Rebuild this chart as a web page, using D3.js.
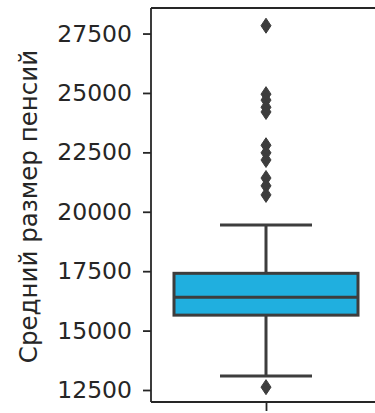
<!DOCTYPE html>
<html>
<head>
<meta charset="utf-8">
<script src="https://cdn.jsdelivr.net/npm/d3@7"></script>
<style>
  html, body { margin: 0; padding: 0; background: #fff; }
  svg { display: block; }
  text { font-family: "DejaVu Sans", sans-serif; }
</style>
</head>
<body>
<svg id="chart" width="375" height="413"></svg>
<script>
// Summary of average pension sizes (box plot statistics)
const boxStats = { q1: 15650, median: 16400, q3: 17410, whiskerLow: 13090, whiskerHigh: 19440 };
const outliers = [27830, 24950, 24700, 24400, 24200, 22800, 22480, 22180, 21420, 21090, 20710, 12620];
const yTicks = [12500, 15000, 17500, 20000, 22500, 25000, 27500];
const yLabel = "Средний размер пенсий";
const yLimits = [11995, 28575];

const svg = d3.select("#chart");
const plot = { left: 151, top: 8, bottom: 402, right: 381 };

const y = d3.scaleLinear().domain(yLimits).range([plot.bottom, plot.top]);
const x = d3.scaleLinear().domain([-0.5, 0.5]).range([plot.left, plot.right]);

const ink = "#262626";
const lineGray = "#3d3d3d";
const boxFill = "#20afdf";

// Box body
const boxW = x(0.4) - x(-0.4);
svg.append("rect")
  .attr("x", x(-0.4)).attr("y", y(boxStats.q3))
  .attr("width", boxW).attr("height", y(boxStats.q1) - y(boxStats.q3))
  .attr("fill", boxFill).attr("stroke", lineGray).attr("stroke-width", 3);

// Whiskers and caps
const g = svg.append("g").attr("stroke", lineGray).attr("stroke-width", 3).attr("fill", "none");
g.append("line").attr("x1", x(0)).attr("x2", x(0)).attr("y1", y(boxStats.q3)).attr("y2", y(boxStats.whiskerHigh));
g.append("line").attr("x1", x(0)).attr("x2", x(0)).attr("y1", y(boxStats.q1)).attr("y2", y(boxStats.whiskerLow));
[boxStats.whiskerHigh, boxStats.whiskerLow].forEach(v => {
  g.append("line").attr("x1", x(-0.2)).attr("x2", x(0.2)).attr("y1", y(v)).attr("y2", y(v));
});
g.append("line").attr("x1", x(-0.4)).attr("x2", x(0.4))
  .attr("y1", y(boxStats.median)).attr("y2", y(boxStats.median));

// Outliers drawn as thin diamonds
const hh = 7.5, hw = 5;
svg.append("g").selectAll("path").data(outliers).join("path")
  .attr("d", `M0,${-hh}L${hw},0L0,${hh}L${-hw},0Z`)
  .attr("transform", d => `translate(${x(0)},${y(d)})`)
  .attr("fill", lineGray).attr("stroke", lineGray).attr("stroke-width", 1);

// Y axis
const yAxis = svg.append("g").attr("transform", `translate(${plot.left},0)`)
  .call(d3.axisLeft(y).tickValues(yTicks).tickFormat(d3.format("d")).tickSize(8).tickPadding(11).tickSizeOuter(0));
yAxis.select(".domain").remove();
yAxis.selectAll(".tick line").attr("stroke", ink).attr("stroke-width", 1.8);
yAxis.selectAll(".tick text").attr("fill", ink).style("font-size", "23.5px").attr("font-family", "DejaVu Sans");

// X axis: single unlabeled tick at the category centre
const xAxis = svg.append("g").attr("transform", `translate(0,${plot.bottom})`)
  .call(d3.axisBottom(x).tickValues([0]).tickFormat("").tickSize(9).tickSizeOuter(0));
xAxis.select(".domain").remove();
xAxis.selectAll(".tick line").attr("stroke", ink).attr("stroke-width", 1.8);

// Spines
const spines = svg.append("g").attr("stroke", ink).attr("stroke-width", 1.8).attr("fill", "none");
spines.append("line").attr("x1", plot.left).attr("x2", plot.left).attr("y1", plot.top).attr("y2", plot.bottom);
spines.append("line").attr("x1", plot.left).attr("x2", plot.right).attr("y1", plot.bottom).attr("y2", plot.bottom);
spines.append("line").attr("x1", plot.left).attr("x2", plot.right).attr("y1", plot.top).attr("y2", plot.top);
spines.append("line").attr("x1", plot.right).attr("x2", plot.right).attr("y1", plot.top).attr("y2", plot.bottom);

// Y axis title
svg.append("text")
  .attr("transform", "translate(37,206.5) rotate(-90)")
  .attr("text-anchor", "middle")
  .attr("fill", ink).style("font-size", "24.5px")
  .text(yLabel);
</script>
</body>
</html>
